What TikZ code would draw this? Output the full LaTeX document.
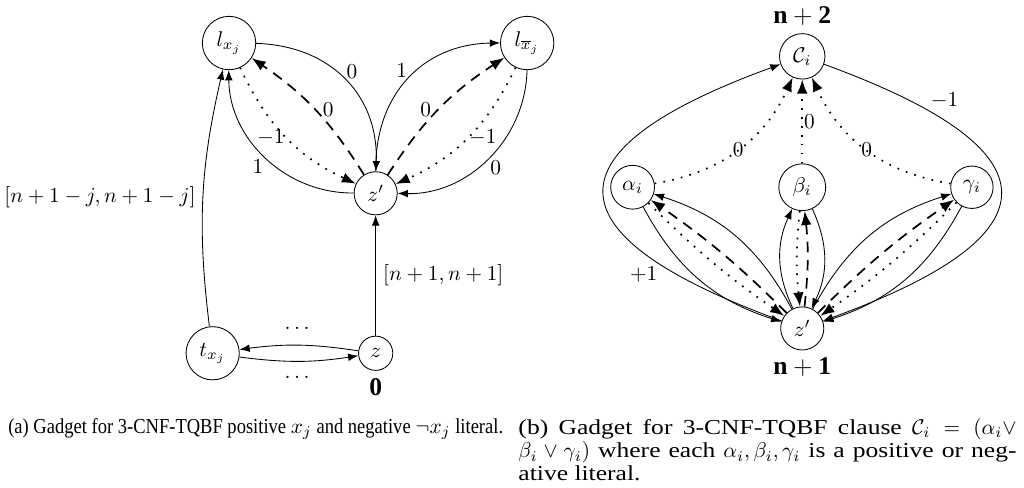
\documentclass[tikz,border=0pt]{standalone}
\usepackage{fontspec}
\setmainfont{Liberation Serif}
\newfontfamily\captfont[FakeStretch=0.87]{Liberation Serif}
\newfontfamily\captwide[FakeStretch=1.2]{Liberation Serif}
\usepackage{amsmath}
\usetikzlibrary{arrows.meta}

\begin{document}
\begin{tikzpicture}[
    vert/.style={circle, draw, inner sep=3.33pt},
    plainarc/.style={-{Latex}},
    dashedarc/.style={-{Latex}, thick, dash pattern=on 5pt off 3.5pt},
    dottedarc/.style={-{Latex}, thick, dash pattern=on 0.8pt off 3.4pt},
    weight/.style={font=\large},
    capt/.style={anchor=north west, inner sep=0pt, font=\fontsize{10}{9.1}\selectfont}]
  \useasboundingbox (0,0) rectangle (16.9,8.04);
  % (a) literal gadget
  \node[vert] (lx) at (3.78,7.33) {$l_{x_j}$};
  \node[vert] (lxb) at (8.70,7.33) {$l_{\overline{x}_j}$};
  \node[vert] (zpa) at (6.20,4.85) {$z'$};
  \node[vert] (tx) at (3.51,2.21) {$t_{x_j}$};
  \node[vert, label={[weight]below:$\mathbf{0}$}] (za) at (6.20,2.21) {$z$};
  \draw[plainarc] (lx) to[bend left=45, looseness=1.1] node[auto, inner sep=0.5pt] {$0$} (zpa);
  \draw[dashedarc] (zpa) to[bend right=12] node[right] {$0$} (lx);
  \draw[dottedarc] (lx) to[bend right=20] node[left, inner sep=0.5pt] {$-1$} (zpa);
  \draw[plainarc] (zpa) to[bend left=45] node[auto, inner sep=1pt] {$1$} (lx);
  \draw[plainarc] (zpa) to[bend left=45, looseness=1.1] node[auto, inner sep=0.5pt] {$1$} (lxb);
  \draw[dashedarc] (zpa) to[bend left=12] node[left] {$0$} (lxb);
  \draw[dottedarc] (lxb) to[bend left=20] node[right, inner sep=0.5pt] {$-1$} (zpa);
  \draw[plainarc] (lxb) to[bend left=45] node[auto, inner sep=1pt] {$0$} (zpa);
  \draw[plainarc] (tx) to[bend left=10] node[left] {$[n+1-j,n+1-j]$} (lx);
  \draw[plainarc] (za) -- node[right] {$[n+1,n+1]$} (zpa);
  \draw[plainarc] (za) to[bend right=8] node[above=4pt] {$\dots$} (tx);
  \draw[plainarc] (tx) to[bend right=8] node[below=3.5pt] {$\dots$} (za);
  % (b) clause gadget
  \node[vert, label={[weight]above:$\mathbf{n+2}$}] (ci) at (13.24,7.11) {$\mathcal{C}_i$};
  \node[vert] (al) at (10.44,4.95) {$\alpha_i$};
  \node[vert] (be) at (13.24,4.95) {$\beta_i$};
  \node[vert] (ga) at (16.04,4.95) {$\gamma_i$};
  \node[vert, label={[weight]below:$\mathbf{n+1}$}] (zpb) at (13.24,2.62) {$z'$};
  \draw[plainarc] (zpb) to[out=160, in=200, looseness=2.5] node[pos=0.22, below left, inner sep=1pt] {$+1$} (ci);
  \draw[plainarc] (ci) to[out=-20, in=20, looseness=2.5] node[pos=0.18, above right, inner sep=1pt] {$-1$} (zpb);
  \draw[dottedarc] (al) to[bend right=28] node {$0$} (ci);
  \draw[dottedarc] (be) -- node[right, inner sep=0.5pt] {$0$} (ci);
  \draw[dottedarc] (ga) to[bend left=28] node {$0$} (ci);
  \draw[plainarc] (zpb) to[bend right=22] (al);
  \draw[plainarc] (al) to[bend right=22] (zpb);
  \draw[dashedarc] (zpb) to[bend right=5] (al);
  \draw[dottedarc] (al) to[bend right=5] (zpb);
  \draw[plainarc] (zpb) to[bend left=25] (be);
  \draw[plainarc] (be) to[bend left=25] (zpb);
  \draw[dottedarc] (be) to[bend right=6] (zpb);
  \draw[dashedarc] (zpb) to[bend right=6] (be);
  \draw[plainarc] (zpb) to[bend left=22] (ga);
  \draw[plainarc] (ga) to[bend left=22] (zpb);
  \draw[dashedarc] (zpb) to[bend left=5] (ga);
  \draw[dottedarc] (ga) to[bend left=5] (zpb);
  % captions
  \node[capt] (capa) at (0.13,1.14)
    {\captfont (a) Gadget for 3-CNF-TQBF positive $x_j$ and negative $\neg x_j$ literal.};
  \node[capt, text width=8.22cm, align=justify] (capb) at (8.55,1.14)
    {\captwide (b) Gadget for 3-CNF-TQBF clause $\mathcal{C}_i=(\alpha_i\vee$\linebreak
     $\beta_i\vee\gamma_i)$ where each $\alpha_i,\beta_i,\gamma_i$ is a positive or neg-\linebreak
     ative literal.};
\end{tikzpicture}
\end{document}
